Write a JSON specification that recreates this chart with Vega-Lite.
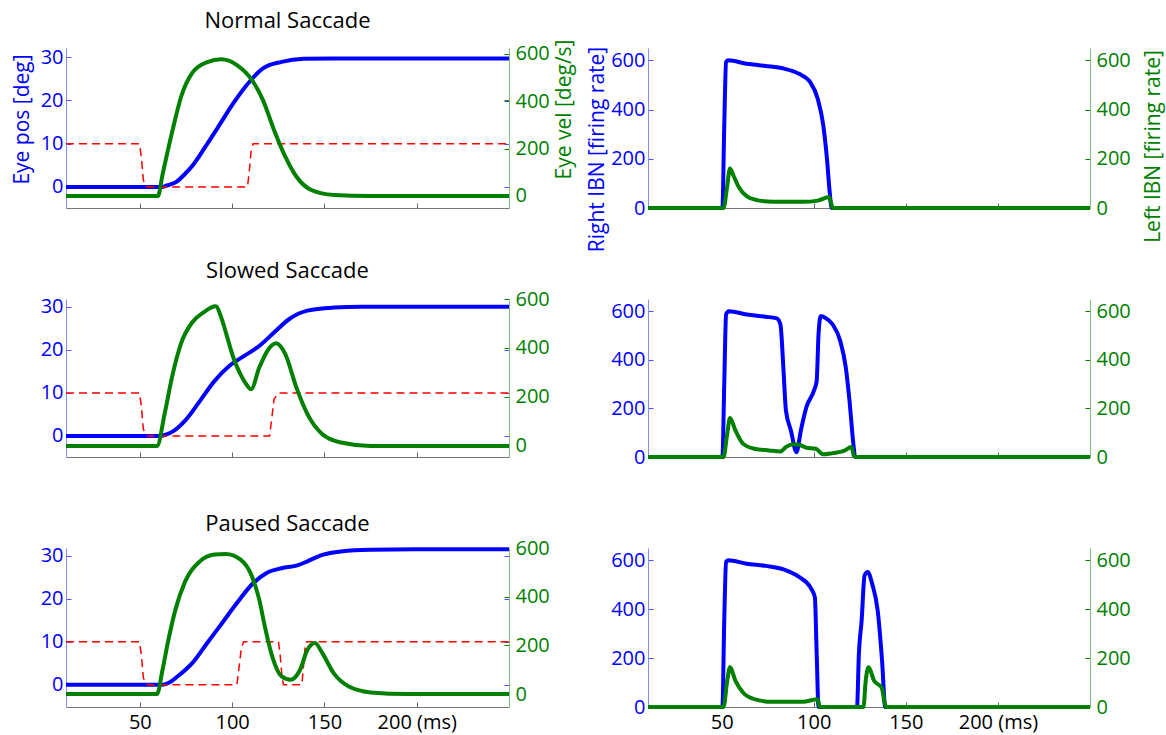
{
  "$schema": "https://vega.github.io/schema/vega-lite/v6.json",
  "padding": {"left": 11, "top": 10, "right": 2, "bottom": 2},
  "config": {
    "font": "Open Sans",
    "view": {"stroke": null},
    "axis": {"grid": false, "labelFont": "Open Sans", "titleFont": "Open Sans", "titleFontWeight": "normal", "labelFontSize": 20, "titleFontSize": 21},
    "title": {"fontSize": 22, "fontWeight": "normal", "color": "black", "frame": "group", "baseline": "alphabetic", "font": "Open Sans"}
  },
  "data": {"values": [
    {"p":"TL","s":"b","t":10,"v":0},{"p":"TL","s":"b","t":62,"v":0},{"p":"TL","s":"b","t":65,"v":0.4},{"p":"TL","s":"b","t":69.8,"v":1.2},{"p":"TL","s":"b","t":74.4,"v":3},{"p":"TL","s":"b","t":78.8,"v":5.1},{"p":"TL","s":"b","t":85.5,"v":9.3},{"p":"TL","s":"b","t":92.5,"v":13.9},{"p":"TL","s":"b","t":100.6,"v":19.3},{"p":"TL","s":"b","t":108.6,"v":23.9},{"p":"TL","s":"b","t":116.7,"v":27.4},{"p":"TL","s":"b","t":126.8,"v":28.9},{"p":"TL","s":"b","t":138.8,"v":29.6},{"p":"TL","s":"b","t":155,"v":29.7},{"p":"TL","s":"b","t":250,"v":29.7},
    {"p":"TL","s":"r","t":10,"v":10},{"p":"TL","s":"r","t":49.8,"v":10},{"p":"TL","s":"r","t":50.8,"v":7},{"p":"TL","s":"r","t":51.9,"v":1.6},{"p":"TL","s":"r","t":53.3,"v":0.2},{"p":"TL","s":"r","t":54.5,"v":0},{"p":"TL","s":"r","t":108.3,"v":0},{"p":"TL","s":"r","t":109.2,"v":3.2},{"p":"TL","s":"r","t":110.2,"v":8},{"p":"TL","s":"r","t":111.4,"v":10},{"p":"TL","s":"r","t":250,"v":10},
    {"p":"TL","s":"g","t":10,"v":0},{"p":"TL","s":"g","t":59.8,"v":0},{"p":"TL","s":"g","t":62.3,"v":90},{"p":"TL","s":"g","t":65.4,"v":200},{"p":"TL","s":"g","t":68.4,"v":300},{"p":"TL","s":"g","t":72.4,"v":420},{"p":"TL","s":"g","t":78.4,"v":520},{"p":"TL","s":"g","t":86.5,"v":565},{"p":"TL","s":"g","t":94.1,"v":577},{"p":"TL","s":"g","t":102.6,"v":553},{"p":"TL","s":"g","t":110.7,"v":490},{"p":"TL","s":"g","t":116.7,"v":405},{"p":"TL","s":"g","t":122.7,"v":279},{"p":"TL","s":"g","t":128.8,"v":166},{"p":"TL","s":"g","t":134.8,"v":82},{"p":"TL","s":"g","t":142.9,"v":25},{"p":"TL","s":"g","t":155,"v":4},{"p":"TL","s":"g","t":175,"v":0},{"p":"TL","s":"g","t":250,"v":0},
    {"p":"TR","s":"b","t":10,"v":0},{"p":"TR","s":"b","t":50.4,"v":0},{"p":"TR","s":"b","t":51.4,"v":334},{"p":"TR","s":"b","t":52.4,"v":593},{"p":"TR","s":"b","t":53.4,"v":600},{"p":"TR","s":"b","t":63.6,"v":586},{"p":"TR","s":"b","t":73.8,"v":577},{"p":"TR","s":"b","t":83.9,"v":566},{"p":"TR","s":"b","t":92,"v":545},{"p":"TR","s":"b","t":98.1,"v":511},{"p":"TR","s":"b","t":102.2,"v":443},{"p":"TR","s":"b","t":105.2,"v":334},{"p":"TR","s":"b","t":107.2,"v":198},{"p":"TR","s":"b","t":108.7,"v":61},{"p":"TR","s":"b","t":109.7,"v":0},{"p":"TR","s":"b","t":250,"v":0},
    {"p":"TR","s":"g","t":10,"v":0},{"p":"TR","s":"g","t":51,"v":0},{"p":"TR","s":"g","t":53,"v":89},{"p":"TR","s":"g","t":54.5,"v":160},{"p":"TR","s":"g","t":56.5,"v":130},{"p":"TR","s":"g","t":59.5,"v":82},{"p":"TR","s":"g","t":63.6,"v":48},{"p":"TR","s":"g","t":69.7,"v":31},{"p":"TR","s":"g","t":77.8,"v":25},{"p":"TR","s":"g","t":94,"v":25},{"p":"TR","s":"g","t":102.2,"v":30},{"p":"TR","s":"g","t":108.3,"v":45},{"p":"TR","s":"g","t":109.4,"v":20},{"p":"TR","s":"g","t":110.4,"v":0},{"p":"TR","s":"g","t":250,"v":0},
    {"p":"ML","s":"b","t":10,"v":0},{"p":"ML","s":"b","t":61.3,"v":0},{"p":"ML","s":"b","t":64,"v":0.3},{"p":"ML","s":"b","t":68.4,"v":1.2},{"p":"ML","s":"b","t":74.4,"v":3.5},{"p":"ML","s":"b","t":82.5,"v":8.1},{"p":"ML","s":"b","t":90.5,"v":12.8},{"p":"ML","s":"b","t":98.6,"v":16.3},{"p":"ML","s":"b","t":106.6,"v":18.6},{"p":"ML","s":"b","t":114.7,"v":20.9},{"p":"ML","s":"b","t":122.7,"v":24},{"p":"ML","s":"b","t":130.8,"v":27.1},{"p":"ML","s":"b","t":140.8,"v":29.1},{"p":"ML","s":"b","t":155,"v":29.8},{"p":"ML","s":"b","t":170,"v":30},{"p":"ML","s":"b","t":250,"v":30},
    {"p":"ML","s":"r","t":10,"v":10},{"p":"ML","s":"r","t":49.8,"v":10},{"p":"ML","s":"r","t":50.8,"v":7},{"p":"ML","s":"r","t":51.9,"v":1.6},{"p":"ML","s":"r","t":53.3,"v":0.2},{"p":"ML","s":"r","t":54.5,"v":0},{"p":"ML","s":"r","t":120.3,"v":0},{"p":"ML","s":"r","t":121.3,"v":3.5},{"p":"ML","s":"r","t":122.7,"v":8.5},{"p":"ML","s":"r","t":125.1,"v":10},{"p":"ML","s":"r","t":250,"v":10},
    {"p":"ML","s":"g","t":10,"v":0},{"p":"ML","s":"g","t":59.3,"v":0},{"p":"ML","s":"g","t":63.4,"v":130},{"p":"ML","s":"g","t":67.4,"v":280},{"p":"ML","s":"g","t":72.4,"v":420},{"p":"ML","s":"g","t":78.4,"v":505},{"p":"ML","s":"g","t":84.5,"v":545},{"p":"ML","s":"g","t":91.1,"v":570},{"p":"ML","s":"g","t":94.3,"v":520},{"p":"ML","s":"g","t":97.5,"v":440},{"p":"ML","s":"g","t":100.6,"v":362},{"p":"ML","s":"g","t":104,"v":300},{"p":"ML","s":"g","t":107,"v":260},{"p":"ML","s":"g","t":110.3,"v":232},{"p":"ML","s":"g","t":114.7,"v":320},{"p":"ML","s":"g","t":119.7,"v":395},{"p":"ML","s":"g","t":123.8,"v":419},{"p":"ML","s":"g","t":128.8,"v":375},{"p":"ML","s":"g","t":134.8,"v":239},{"p":"ML","s":"g","t":140.8,"v":130},{"p":"ML","s":"g","t":148.9,"v":48},{"p":"ML","s":"g","t":159,"v":14},{"p":"ML","s":"g","t":175,"v":0},{"p":"ML","s":"g","t":250,"v":0},
    {"p":"MR","s":"b","t":10,"v":0},{"p":"MR","s":"b","t":50.4,"v":0},{"p":"MR","s":"b","t":51.4,"v":300},{"p":"MR","s":"b","t":52.4,"v":586},{"p":"MR","s":"b","t":53.9,"v":600},{"p":"MR","s":"b","t":63.6,"v":586},{"p":"MR","s":"b","t":73.8,"v":577},{"p":"MR","s":"b","t":79.9,"v":570},{"p":"MR","s":"b","t":81.9,"v":545},{"p":"MR","s":"b","t":83.5,"v":368},{"p":"MR","s":"b","t":84.9,"v":191},{"p":"MR","s":"b","t":87.6,"v":109},{"p":"MR","s":"b","t":90.6,"v":20},{"p":"MR","s":"b","t":93,"v":109},{"p":"MR","s":"b","t":96,"v":205},{"p":"MR","s":"b","t":100.1,"v":273},{"p":"MR","s":"b","t":101.6,"v":314},{"p":"MR","s":"b","t":102.6,"v":505},{"p":"MR","s":"b","t":103.8,"v":580},{"p":"MR","s":"b","t":106.2,"v":573},{"p":"MR","s":"b","t":110.3,"v":545},{"p":"MR","s":"b","t":114.4,"v":477},{"p":"MR","s":"b","t":117.4,"v":368},{"p":"MR","s":"b","t":119.4,"v":232},{"p":"MR","s":"b","t":121.5,"v":55},{"p":"MR","s":"b","t":122.5,"v":0},{"p":"MR","s":"b","t":250,"v":0},
    {"p":"MR","s":"g","t":10,"v":0},{"p":"MR","s":"g","t":51,"v":0},{"p":"MR","s":"g","t":53,"v":95},{"p":"MR","s":"g","t":54.5,"v":160},{"p":"MR","s":"g","t":57.5,"v":109},{"p":"MR","s":"g","t":61.6,"v":55},{"p":"MR","s":"g","t":67.7,"v":34},{"p":"MR","s":"g","t":75.8,"v":27},{"p":"MR","s":"g","t":81.9,"v":23},{"p":"MR","s":"g","t":84.9,"v":41},{"p":"MR","s":"g","t":88.9,"v":52},{"p":"MR","s":"g","t":92,"v":50},{"p":"MR","s":"g","t":96,"v":38},{"p":"MR","s":"g","t":101.1,"v":34},{"p":"MR","s":"g","t":105.2,"v":11},{"p":"MR","s":"g","t":110.3,"v":16},{"p":"MR","s":"g","t":116.4,"v":25},{"p":"MR","s":"g","t":120.5,"v":41},{"p":"MR","s":"g","t":121.9,"v":3},{"p":"MR","s":"g","t":122.9,"v":0},{"p":"MR","s":"g","t":250,"v":0},
    {"p":"BL","s":"b","t":10,"v":0},{"p":"BL","s":"b","t":62.4,"v":0},{"p":"BL","s":"b","t":66,"v":0.5},{"p":"BL","s":"b","t":70.4,"v":1.9},{"p":"BL","s":"b","t":78.4,"v":5},{"p":"BL","s":"b","t":86.5,"v":9.7},{"p":"BL","s":"b","t":94.5,"v":14.3},{"p":"BL","s":"b","t":102.6,"v":19},{"p":"BL","s":"b","t":110.7,"v":23.3},{"p":"BL","s":"b","t":118.7,"v":26},{"p":"BL","s":"b","t":126.8,"v":27.1},{"p":"BL","s":"b","t":134.8,"v":27.7},{"p":"BL","s":"b","t":140.8,"v":28.7},{"p":"BL","s":"b","t":148.9,"v":30.2},{"p":"BL","s":"b","t":159,"v":31},{"p":"BL","s":"b","t":175,"v":31.4},{"p":"BL","s":"b","t":200,"v":31.5},{"p":"BL","s":"b","t":250,"v":31.5},
    {"p":"BL","s":"r","t":10,"v":10},{"p":"BL","s":"r","t":49.8,"v":10},{"p":"BL","s":"r","t":50.8,"v":7},{"p":"BL","s":"r","t":51.9,"v":1.6},{"p":"BL","s":"r","t":53.3,"v":0.2},{"p":"BL","s":"r","t":54.5,"v":0},{"p":"BL","s":"r","t":102.6,"v":0},{"p":"BL","s":"r","t":103.6,"v":3.5},{"p":"BL","s":"r","t":105,"v":8.5},{"p":"BL","s":"r","t":106.2,"v":10},{"p":"BL","s":"r","t":125.1,"v":10},{"p":"BL","s":"r","t":126,"v":7},{"p":"BL","s":"r","t":127,"v":2},{"p":"BL","s":"r","t":127.8,"v":0},{"p":"BL","s":"r","t":137.8,"v":0},{"p":"BL","s":"r","t":138.6,"v":4},{"p":"BL","s":"r","t":139.5,"v":8.5},{"p":"BL","s":"r","t":140.4,"v":10},{"p":"BL","s":"r","t":250,"v":10},
    {"p":"BL","s":"g","t":10,"v":0},{"p":"BL","s":"g","t":59.3,"v":0},{"p":"BL","s":"g","t":62.3,"v":100},{"p":"BL","s":"g","t":65.4,"v":220},{"p":"BL","s":"g","t":69.4,"v":350},{"p":"BL","s":"g","t":74.4,"v":460},{"p":"BL","s":"g","t":82.5,"v":545},{"p":"BL","s":"g","t":90.5,"v":573},{"p":"BL","s":"g","t":96.6,"v":575},{"p":"BL","s":"g","t":104.6,"v":552},{"p":"BL","s":"g","t":110.7,"v":484},{"p":"BL","s":"g","t":114.7,"v":388},{"p":"BL","s":"g","t":117.7,"v":278},{"p":"BL","s":"g","t":121.7,"v":155},{"p":"BL","s":"g","t":126.8,"v":73},{"p":"BL","s":"g","t":131.8,"v":59},{"p":"BL","s":"g","t":136.8,"v":100},{"p":"BL","s":"g","t":140.8,"v":182},{"p":"BL","s":"g","t":144.9,"v":210},{"p":"BL","s":"g","t":148.9,"v":168},{"p":"BL","s":"g","t":155,"v":86},{"p":"BL","s":"g","t":163,"v":32},{"p":"BL","s":"g","t":175,"v":7},{"p":"BL","s":"g","t":195,"v":0},{"p":"BL","s":"g","t":250,"v":0},
    {"p":"BR","s":"b","t":10,"v":0},{"p":"BR","s":"b","t":50.4,"v":0},{"p":"BR","s":"b","t":51.4,"v":353},{"p":"BR","s":"b","t":52.4,"v":593},{"p":"BR","s":"b","t":53.4,"v":600},{"p":"BR","s":"b","t":63.6,"v":586},{"p":"BR","s":"b","t":73.8,"v":577},{"p":"BR","s":"b","t":83.9,"v":562},{"p":"BR","s":"b","t":92,"v":532},{"p":"BR","s":"b","t":98.1,"v":490},{"p":"BR","s":"b","t":100.6,"v":449},{"p":"BR","s":"b","t":101.6,"v":216},{"p":"BR","s":"b","t":102.6,"v":0},{"p":"BR","s":"b","t":123.5,"v":0},{"p":"BR","s":"b","t":124.5,"v":216},{"p":"BR","s":"b","t":126,"v":353},{"p":"BR","s":"b","t":127.6,"v":538},{"p":"BR","s":"b","t":129.3,"v":552},{"p":"BR","s":"b","t":131.7,"v":504},{"p":"BR","s":"b","t":134.7,"v":395},{"p":"BR","s":"b","t":137.1,"v":189},{"p":"BR","s":"b","t":138.8,"v":0},{"p":"BR","s":"b","t":250,"v":0},
    {"p":"BR","s":"g","t":10,"v":0},{"p":"BR","s":"g","t":51,"v":0},{"p":"BR","s":"g","t":53,"v":107},{"p":"BR","s":"g","t":54.5,"v":162},{"p":"BR","s":"g","t":57.5,"v":107},{"p":"BR","s":"g","t":61.6,"v":59},{"p":"BR","s":"g","t":67.7,"v":32},{"p":"BR","s":"g","t":77.8,"v":21},{"p":"BR","s":"g","t":94,"v":21},{"p":"BR","s":"g","t":102.2,"v":32},{"p":"BR","s":"g","t":103.2,"v":0},{"p":"BR","s":"g","t":127,"v":0},{"p":"BR","s":"g","t":128.2,"v":107},{"p":"BR","s":"g","t":129.8,"v":162},{"p":"BR","s":"g","t":132.8,"v":107},{"p":"BR","s":"g","t":136.9,"v":79},{"p":"BR","s":"g","t":138.5,"v":18},{"p":"BR","s":"g","t":139.3,"v":0},{"p":"BR","s":"g","t":250,"v":0}
  ]},
  "bounds": "flush",
  "columns": 2,
  "spacing": {"row": 91, "column": 139},
  "concat": [
    {
      "width": 443, "height": 160,
      "title": {"text": "Normal Saccade", "offset": 6},
      "encoding": {"x": {"field": "t", "type": "quantitative", "scale": {"domain": [10, 250], "nice": false, "zero": false}, "axis": {"values": [50, 100, 150, 200], "labels": false, "title": null, "tickSize": -5, "tickColor": "#666666", "domainColor": "#777777"}}},
      "layer": [
        {"transform": [{"filter": "datum.p === 'TL' && datum.s === 'b'"}], "mark": {"type": "line", "color": "#0000ff", "strokeWidth": 4, "interpolate": "monotone"},
         "encoding": {"y": {"field": "v", "type": "quantitative", "scale": {"domain": [-4.85, 32.1], "nice": false, "zero": false}, "axis": {"orient": "left", "values": [0, 10, 20, 30], "tickSize": -5, "tickColor": "#5050ff", "domainColor": "#8c8cff", "labelColor": "#0000ff", "labelPadding": 8, "title": "Eye pos [deg]", "titleColor": "#0000ff", "titlePadding": 8, "titleY": 71}}}},
        {"transform": [{"filter": "datum.p === 'TL' && datum.s === 'r'"}], "mark": {"type": "line", "color": "#ff0000", "strokeWidth": 1.5, "strokeDash": [8, 5]},
         "encoding": {"y": {"field": "v", "type": "quantitative", "scale": {"domain": [-4.85, 32.1], "nice": false, "zero": false}, "axis": {"orient": "right", "values": [0, 10, 20, 30], "tickSize": -5, "tickColor": "#5050ff", "domain": false, "labels": false, "title": null}}}},
        {"transform": [{"filter": "datum.p === 'TL' && datum.s === 'g'"}], "mark": {"type": "line", "color": "#008000", "strokeWidth": 4, "interpolate": "monotone"},
         "encoding": {"y": {"field": "v", "type": "quantitative", "scale": {"domain": [-51, 625], "nice": false, "zero": false}, "axis": {"orient": "right", "values": [0, 200, 400, 600], "tickSize": -5, "tickColor": "#008000", "domainColor": "#7fbf7f", "labelColor": "#008000", "labelPadding": 11, "title": "Eye vel [deg/s]", "titleColor": "#008000", "titleAngle": 270, "titleBaseline": "top", "titlePadding": 4, "titleY": 61}}}}
      ],
      "resolve": {"scale": {"y": "independent"}, "axis": {"y": "independent"}}
    },
    {
      "width": 442, "height": 160,
      "encoding": {"x": {"field": "t", "type": "quantitative", "scale": {"domain": [10, 250], "nice": false, "zero": false}, "axis": {"values": [50, 100, 150, 200], "labels": false, "title": null, "tickSize": -5, "tickColor": "#666666", "domainColor": "#777777"}}},
      "layer": [
        {"transform": [{"filter": "datum.p === 'TR' && datum.s === 'b'"}], "mark": {"type": "line", "color": "#0000ff", "strokeWidth": 4, "interpolate": "monotone"},
         "encoding": {"y": {"field": "v", "type": "quantitative", "scale": {"domain": [0, 650], "nice": false, "zero": false}, "axis": {"orient": "left", "values": [0, 200, 400, 600], "tickSize": -5, "tickColor": "#5050ff", "domainColor": "#8c8cff", "labelColor": "#0000ff", "labelPadding": 8, "title": "Right IBN [firing rate]", "titleColor": "#0000ff", "titlePadding": 3, "titleY": 101}}}},
        {"transform": [{"filter": "datum.p === 'TR' && datum.s === 'g'"}], "mark": {"type": "line", "color": "#008000", "strokeWidth": 4, "interpolate": "monotone"},
         "encoding": {"y": {"field": "v", "type": "quantitative", "scale": {"domain": [0, 650], "nice": false, "zero": false}, "axis": {"orient": "right", "values": [0, 200, 400, 600], "tickSize": -5, "tickColor": "#008000", "domainColor": "#7fbf7f", "labelColor": "#008000", "labelPadding": 11, "title": "Left IBN [firing rate]", "titleColor": "#008000", "titleAngle": 270, "titleBaseline": "top", "titlePadding": 12, "titleY": 98}}}}
      ],
      "resolve": {"scale": {"y": "independent"}, "axis": {"y": "independent"}}
    },
    {
      "width": 443, "height": 158,
      "title": {"text": "Slowed Saccade", "offset": 6},
      "encoding": {"x": {"field": "t", "type": "quantitative", "scale": {"domain": [10, 250], "nice": false, "zero": false}, "axis": {"values": [50, 100, 150, 200], "labels": false, "title": null, "tickSize": -5, "tickColor": "#666666", "domainColor": "#777777"}}},
      "layer": [
        {"transform": [{"filter": "datum.p === 'ML' && datum.s === 'b'"}], "mark": {"type": "line", "color": "#0000ff", "strokeWidth": 4, "interpolate": "monotone"},
         "encoding": {"y": {"field": "v", "type": "quantitative", "scale": {"domain": [-4.88, 31.8], "nice": false, "zero": false}, "axis": {"orient": "left", "values": [0, 10, 20, 30], "tickSize": -5, "tickColor": "#5050ff", "domainColor": "#8c8cff", "labelColor": "#0000ff", "labelPadding": 8, "title": null}}}},
        {"transform": [{"filter": "datum.p === 'ML' && datum.s === 'r'"}], "mark": {"type": "line", "color": "#ff0000", "strokeWidth": 1.5, "strokeDash": [8, 5]},
         "encoding": {"y": {"field": "v", "type": "quantitative", "scale": {"domain": [-4.88, 31.8], "nice": false, "zero": false}, "axis": {"orient": "right", "values": [0, 10, 20, 30], "tickSize": -5, "tickColor": "#5050ff", "domain": false, "labels": false, "title": null}}}},
        {"transform": [{"filter": "datum.p === 'ML' && datum.s === 'g'"}], "mark": {"type": "line", "color": "#008000", "strokeWidth": 4, "interpolate": "monotone"},
         "encoding": {"y": {"field": "v", "type": "quantitative", "scale": {"domain": [-45, 600], "nice": false, "zero": false}, "axis": {"orient": "right", "values": [0, 200, 400, 600], "tickSize": -5, "tickColor": "#008000", "domainColor": "#7fbf7f", "labelColor": "#008000", "labelPadding": 11, "title": null}}}}
      ],
      "resolve": {"scale": {"y": "independent"}, "axis": {"y": "independent"}}
    },
    {
      "width": 442, "height": 158,
      "encoding": {"x": {"field": "t", "type": "quantitative", "scale": {"domain": [10, 250], "nice": false, "zero": false}, "axis": {"values": [50, 100, 150, 200], "labels": false, "title": null, "tickSize": -5, "tickColor": "#666666", "domainColor": "#777777"}}},
      "layer": [
        {"transform": [{"filter": "datum.p === 'MR' && datum.s === 'b'"}], "mark": {"type": "line", "color": "#0000ff", "strokeWidth": 4, "interpolate": "monotone"},
         "encoding": {"y": {"field": "v", "type": "quantitative", "scale": {"domain": [0, 650], "nice": false, "zero": false}, "axis": {"orient": "left", "values": [0, 200, 400, 600], "tickSize": -5, "tickColor": "#5050ff", "domainColor": "#8c8cff", "labelColor": "#0000ff", "labelPadding": 8, "title": null}}}},
        {"transform": [{"filter": "datum.p === 'MR' && datum.s === 'g'"}], "mark": {"type": "line", "color": "#008000", "strokeWidth": 4, "interpolate": "monotone"},
         "encoding": {"y": {"field": "v", "type": "quantitative", "scale": {"domain": [0, 650], "nice": false, "zero": false}, "axis": {"orient": "right", "values": [0, 200, 400, 600], "tickSize": -5, "tickColor": "#008000", "domainColor": "#7fbf7f", "labelColor": "#008000", "labelPadding": 11, "title": null}}}}
      ],
      "resolve": {"scale": {"y": "independent"}, "axis": {"y": "independent"}}
    },
    {
      "width": 443, "height": 159,
      "title": {"text": "Paused Saccade", "offset": 2},
      "encoding": {"x": {"field": "t", "type": "quantitative", "scale": {"domain": [10, 250], "nice": false, "zero": false}, "axis": {"values": [50, 100, 150, 200], "labelColor": "black", "labelPadding": 10, "labelExpr": "datum.value === 200 ? '200 (ms)' : datum.label", "title": null, "tickSize": -5, "tickColor": "#666666", "domainColor": "#777777", "encode": {"labels": {"update": {"align": {"signal": "datum.value === 200 ? 'left' : 'center'"}, "dx": {"signal": "datum.value === 200 ? -17 : 0"}}}}}}},
      "layer": [
        {"transform": [{"filter": "datum.p === 'BL' && datum.s === 'b'"}], "mark": {"type": "line", "color": "#0000ff", "strokeWidth": 4, "interpolate": "monotone"},
         "encoding": {"y": {"field": "v", "type": "quantitative", "scale": {"domain": [-5.2, 31.8], "nice": false, "zero": false}, "axis": {"orient": "left", "values": [0, 10, 20, 30], "tickSize": -5, "tickColor": "#5050ff", "domainColor": "#8c8cff", "labelColor": "#0000ff", "labelPadding": 8, "title": null}}}},
        {"transform": [{"filter": "datum.p === 'BL' && datum.s === 'r'"}], "mark": {"type": "line", "color": "#ff0000", "strokeWidth": 1.5, "strokeDash": [8, 5]},
         "encoding": {"y": {"field": "v", "type": "quantitative", "scale": {"domain": [-5.2, 31.8], "nice": false, "zero": false}, "axis": {"orient": "right", "values": [0, 10, 20, 30], "tickSize": -5, "tickColor": "#5050ff", "domain": false, "labels": false, "title": null}}}},
        {"transform": [{"filter": "datum.p === 'BL' && datum.s === 'g'"}], "mark": {"type": "line", "color": "#008000", "strokeWidth": 4, "interpolate": "monotone"},
         "encoding": {"y": {"field": "v", "type": "quantitative", "scale": {"domain": [-53, 600], "nice": false, "zero": false}, "axis": {"orient": "right", "values": [0, 200, 400, 600], "tickSize": -5, "tickColor": "#008000", "domainColor": "#7fbf7f", "labelColor": "#008000", "labelPadding": 11, "title": null}}}}
      ],
      "resolve": {"scale": {"y": "independent"}, "axis": {"y": "independent"}}
    },
    {
      "width": 442, "height": 159,
      "encoding": {"x": {"field": "t", "type": "quantitative", "scale": {"domain": [10, 250], "nice": false, "zero": false}, "axis": {"values": [50, 100, 150, 200], "labelColor": "black", "labelPadding": 10, "labelExpr": "datum.value === 200 ? '200 (ms)' : datum.label", "title": null, "tickSize": -5, "tickColor": "#666666", "domainColor": "#777777", "encode": {"labels": {"update": {"align": {"signal": "datum.value === 200 ? 'left' : 'center'"}, "dx": {"signal": "datum.value === 200 ? -17 : 0"}}}}}}},
      "layer": [
        {"transform": [{"filter": "datum.p === 'BR' && datum.s === 'b'"}], "mark": {"type": "line", "color": "#0000ff", "strokeWidth": 4, "interpolate": "monotone"},
         "encoding": {"y": {"field": "v", "type": "quantitative", "scale": {"domain": [0, 650], "nice": false, "zero": false}, "axis": {"orient": "left", "values": [0, 200, 400, 600], "tickSize": -5, "tickColor": "#5050ff", "domainColor": "#8c8cff", "labelColor": "#0000ff", "labelPadding": 8, "title": null}}}},
        {"transform": [{"filter": "datum.p === 'BR' && datum.s === 'g'"}], "mark": {"type": "line", "color": "#008000", "strokeWidth": 4, "interpolate": "monotone"},
         "encoding": {"y": {"field": "v", "type": "quantitative", "scale": {"domain": [0, 650], "nice": false, "zero": false}, "axis": {"orient": "right", "values": [0, 200, 400, 600], "tickSize": -5, "tickColor": "#008000", "domainColor": "#7fbf7f", "labelColor": "#008000", "labelPadding": 11, "title": null}}}}
      ],
      "resolve": {"scale": {"y": "independent"}, "axis": {"y": "independent"}}
    }
  ]
}
